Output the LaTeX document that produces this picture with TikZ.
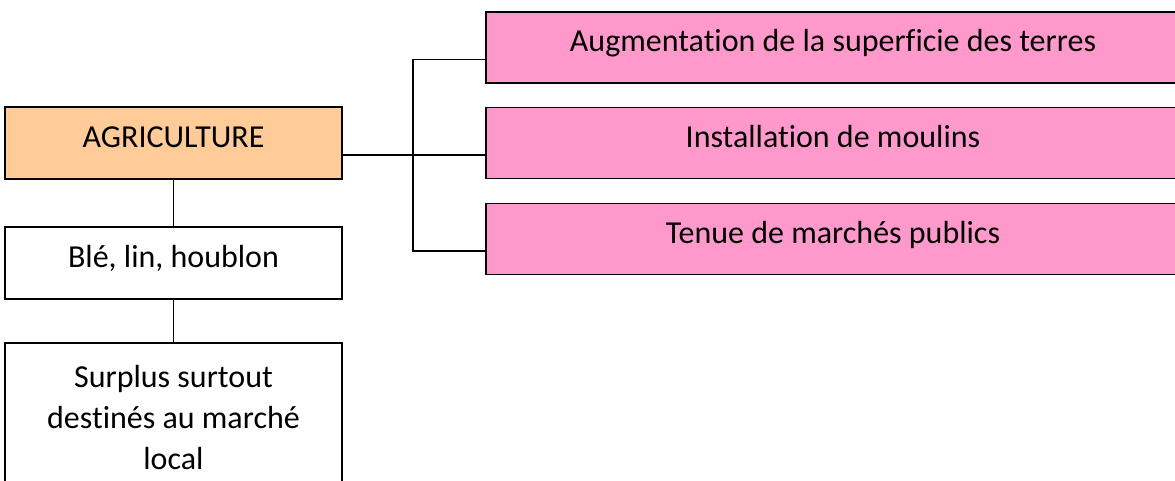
\documentclass[tikz,border=0pt]{standalone}
\usepackage{fontspec}
\setmainfont[Ligatures=NoCommon]{Carlito}
\definecolor{agrifill}{HTML}{FFCC99}
\definecolor{pinkfill}{HTML}{FF99CC}
\begin{document}
\begin{tikzpicture}[x=1pt,y=-1pt,
  box/.style={draw=black,line width=1.8pt,rectangle,inner sep=0pt,
    font=\fontsize{32}{41}\selectfont,text height=21pt,text depth=13pt},
  pinkbox/.style={box,fill=pinkfill,minimum width=694pt,minimum height=71pt},
  leftbox/.style={box,minimum width=337pt,minimum height=72pt},
  conn/.style={line width=1.8pt,draw=black}]
\useasboundingbox (0,0) rectangle (1175,480);
\node[leftbox,fill=agrifill] (agri) at (173.5,143) {AGRICULTURE};
\node[leftbox,fill=white] (ble) at (173.5,263) {Blé, lin, houblon};
\node[box,minimum width=337pt,minimum height=142pt,text height=0pt,text depth=0pt] (surplus) at (173.5,414) {};
\node[font=\fontsize{32}{41}\selectfont,align=center,inner sep=0pt] (surplustext) at (173.5,417.5) {Surplus surtout\\destinés au marché\\local};
\node[pinkbox] (p1) at (833,47.5) {Augmentation de la superficie des terres};
\node[pinkbox] (p2) at (833,143) {Installation de moulins};
\node[pinkbox] (p3) at (833,239) {Tenue de marchés publics};
\coordinate (j) at (413,155);
\draw[conn] (agri.south) -- (ble.north);
\draw[conn] (ble.south) -- (surplus.north);
\draw[conn] ([yshift=-12pt]agri.east) -- (j) -- ([yshift=-12pt]p2.west);
\draw[conn] ([yshift=-12pt]p1.west) -| (j) |- ([yshift=-12pt]p3.west);
\end{tikzpicture}
\end{document}
